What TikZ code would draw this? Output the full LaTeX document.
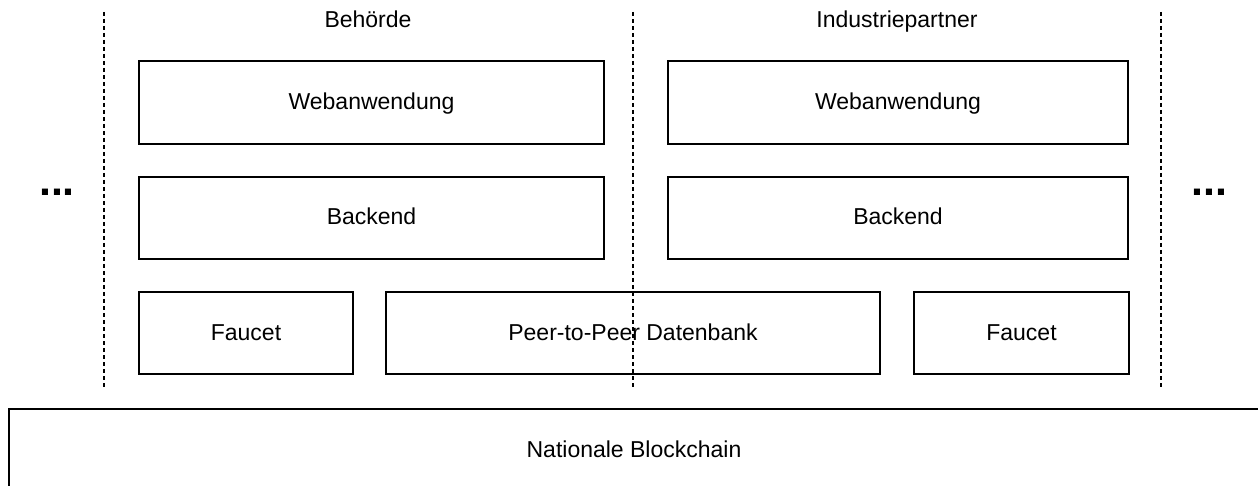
\documentclass[tikz,border=0pt]{standalone}
\usepackage{fontspec}
\setmainfont{Liberation Sans}
\begin{document}
\begin{tikzpicture}[x=0.5pt,y=-0.5pt,
  box/.style={draw=black, line width=0.65pt, fill=white, inner sep=0pt,
    text height=0.7em, text depth=0pt, font=\fontsize{11.5}{13}\selectfont},
  lane/.style={font=\fontsize{11.5}{13}\selectfont, inner sep=0pt, anchor=base},
  more/.style={font=\fontsize{21.5}{24}\selectfont\bfseries, inner sep=0pt, anchor=base},
  divider/.style={line width=0.6pt, dash pattern=on 2pt off 1.5pt}]
\clip (0,0) rectangle (1258,486);
\useasboundingbox (0,0) rectangle (1258,486);

% lane separators
\coordinate (d1t) at (104,12);  \coordinate (d1b) at (104,389);
\coordinate (d2t) at (633,12);  \coordinate (d2b) at (633,389);
\coordinate (d3t) at (1161,12); \coordinate (d3b) at (1161,389);
\draw[divider] (d1t) -- (d1b);
\draw[divider] (d2t) -- (d2b);
\draw[divider] (d3t) -- (d3b);

% lane titles
\node[lane] (tb) at (368,28) {Behörde};
\node[lane] (ti) at (897,28) {Industriepartner};

% authority stack
\node[box, minimum width=232.5pt, minimum height=41.5pt] (bweb)  at (371.5,102.5) {Webanwendung};
\node[box, minimum width=232.5pt, minimum height=41pt]   (bback) at (371.5,218) {Backend};
\node[box, minimum width=107pt,   minimum height=41pt]   (bfau)  at (246,333) {Faucet};

% industry partner stack
\node[box, minimum width=230pt,   minimum height=41.5pt] (iweb)  at (898,102.5) {Webanwendung};
\node[box, minimum width=230pt,   minimum height=41pt]   (iback) at (898,218) {Backend};
\node[box, minimum width=107.5pt, minimum height=41pt]   (ifau)  at (1021.5,333) {Faucet};

% shared database spanning both lanes
\node[box, fill=none, minimum width=247pt, minimum height=41pt] (p2p) at (633,333) {Peer-to-Peer Datenbank};

% base layer
\node[box, minimum width=625pt, minimum height=41pt] (chain) at (634,450) {Nationale Blockchain};

% further participants
\node[more] (ml) at (57,196) {...};
\node[more] (mr) at (1209,196) {...};
\end{tikzpicture}
\end{document}
